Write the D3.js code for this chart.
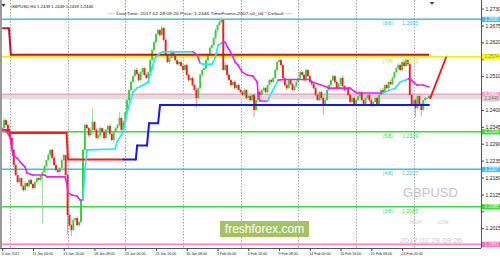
<!DOCTYPE html>
<html><head><meta charset="utf-8">
<script src="https://cdn.jsdelivr.net/npm/d3@7/dist/d3.min.js"></script>
<style>body{margin:0;background:#fff;overflow:hidden}svg{display:block;font-family:"Liberation Sans",Arial,sans-serif}</style>
</head><body><svg id="c" width="500" height="258"></svg>
<script>
// ---------------- data ----------------
const symbol = "GBPUSD";
const headerOHLC = "GBPUSD,H4  1.2439 1.2449 1.2439 1.2446";
const headerInfo = "::::: DateTime: 2017.02.28 09:26   Price: 1.2446   TimeFrame-2007-v0_06   *  Default  :::::";
const stampText = "2017.02.28 09:26";
const firstOpen = 1.2335;
const closes = [
1.2341,1.2367,1.2351,1.2328,1.2309,1.2270,1.2221,1.2188,1.2165,1.2178,1.2152,1.2139,1.2162,1.2152,1.2172,1.2159,1.2146,1.2165,1.2178,1.2172,
1.2185,1.2198,1.2217,1.2237,1.2253,1.2270,1.2244,1.2221,1.2204,1.2198,1.2211,1.2237,1.2253,1.2188,1.2058,1.2025,1.2009,1.2042,1.2048,1.2025,
1.2035,1.2107,1.2270,1.2351,1.2341,1.2318,1.2335,1.2361,1.2335,1.2309,1.2318,1.2341,1.2328,1.2309,1.2335,1.2348,1.2322,1.2302,1.2328,1.2341,
1.2351,1.2374,1.2335,1.2361,1.2393,1.2432,1.2465,1.2491,1.2510,1.2530,1.2517,1.2497,1.2523,1.2536,1.2514,1.2504,1.2523,1.2562,1.2595,1.2621,
1.2647,1.2660,1.2644,1.2667,1.2628,1.2579,1.2556,1.2569,1.2589,1.2576,1.2562,1.2549,1.2556,1.2543,1.2530,1.2546,1.2514,1.2497,1.2504,1.2481,
1.2465,1.2439,1.2471,1.2514,1.2530,1.2536,1.2562,1.2579,1.2602,1.2611,1.2634,1.2660,1.2676,1.2686,1.2693,1.2530,1.2546,1.2514,1.2497,1.2481,
1.2491,1.2471,1.2481,1.2465,1.2458,1.2449,1.2465,1.2439,1.2445,1.2432,1.2449,1.2400,1.2432,1.2458,1.2449,1.2465,1.2471,1.2458,1.2481,1.2497,
1.2491,1.2504,1.2530,1.2556,1.2562,1.2546,1.2504,1.2481,1.2471,1.2497,1.2484,1.2465,1.2478,1.2491,1.2504,1.2523,1.2514,1.2497,1.2530,1.2510,
1.2491,1.2484,1.2471,1.2449,1.2432,1.2458,1.2439,1.2419,1.2432,1.2465,1.2481,1.2497,1.2510,1.2491,1.2471,1.2484,1.2504,1.2478,1.2465,1.2471,
1.2449,1.2426,1.2439,1.2416,1.2432,1.2445,1.2458,1.2432,1.2419,1.2439,1.2449,1.2432,1.2413,1.2426,1.2439,1.2419,1.2449,1.2465,1.2458,1.2481,
1.2471,1.2491,1.2484,1.2504,1.2523,1.2536,1.2546,1.2530,1.2556,1.2543,1.2562,1.2549,1.2449,1.2416,1.2432,1.2406,1.2445,1.2419,1.2400,1.2432,
1.2439,1.2439,1.2446];
const upWick = [
4,7,3,5,2,4,3,6,2,5,3,4,7,2,4,5,3,2,6,4,
3,5,4,2,6,3,5,4,2,8,3,6,4,2,5,3,4,6,2,5,
4,3,7,3,5,4,8,45,3,6,4,5,2,6,3,4,5,2,6,3,
4,19,3,5,4,6,3,5,2,4,7,3,5,4,2,6,3,5,4,6,
3,5,4,8,3,5,2,4,6,3,5,2,4,3,6,2,5,4,3,5,
4,6,3,5,2,4,6,3,5,4,2,6,3,5,9,4,6,3,5,4,
2,6,3,5,4,3,6,2,5,4,3,6,4,2,5,3,6,4,2,5,
4,3,6,2,11,4,5,3,7,2,4,5,3,6,2,4,5,3,6,2,
5,3,4,6,2,3,5,4,7,3,4,2,6,3,5,4,2,6,3,4,
3,5,2,6,4,3,5,4,2,6,3,4,5,2,6,4,3,5,7,2,
4,3,6,5,2,4,7,3,5,6,8,4,3,5,2,6,4,3,5,2,4,3,3];
const dnWick = [
5,3,6,4,2,5,7,3,4,6,2,5,3,4,6,2,5,3,4,2,
4,153,3,5,2,6,4,3,5,2,4,6,3,2,63,5,19,4,6,3,
5,4,2,6,3,5,4,2,6,3,4,5,2,7,3,4,5,3,6,2,
4,5,3,6,2,4,8,3,5,2,4,5,3,7,2,4,5,3,6,2,
3,4,6,2,5,3,4,6,2,5,3,4,7,2,5,3,4,6,2,5,
3,33,4,2,5,3,6,4,2,5,3,4,6,2,5,3,4,6,2,5,
3,4,6,2,5,3,4,6,2,5,3,23,4,6,2,5,3,4,6,2,
5,3,4,6,2,5,3,4,7,2,5,3,4,6,2,5,3,4,6,2,
4,6,3,5,2,4,6,35,5,2,4,6,3,5,2,4,6,3,5,2,
4,6,3,5,2,4,7,3,5,2,4,6,3,5,2,4,6,3,5,2,
4,6,3,5,2,4,6,3,5,2,4,6,3,5,2,29,4,3,20,5,3,4,0];

const timeTickIdx = [0,16,32,48,64,80,96,112,128,144,160,176,192,208];
const timeLabels = ["6 Jan 2017","11 Jan 00:00","13 Jan 16:00","18 Jan 08:00","23 Jan 00:00","25 Jan 16:00","30 Jan 08:00","2 Feb 00:00","6 Feb 16:00","9 Feb 08:00","14 Feb 00:00","16 Feb 16:00","21 Feb 08:00","24 Feb 00:00"];
const weekStartIdx = [4,34,64,94,124,154,184,214];
const priceTicks = [1.2730,1.2675,1.2620,1.2565,1.2510,1.2455,1.2400,1.2345,1.2290,1.2235,1.2180,1.2125,1.2070,1.2015];

const mmLevels = [1.2695,1.2573,1.2451,1.2329,1.2207,1.2085,1.1963];
const mmNames  = ["[8/8]","[7/8]","[6/8]","[5/8]","[4/8]","[3/8]","[2/8]"];
const axisBoxValues = [1.2695,1.2574,1.2451,1.2446,1.2329,1.2207,1.2085,1.1963];

const resistIdx = [0,3.5,4.5,222];
const resistVal = [1.2666,1.2666,1.2580,1.2580];
const supportIdx = [0,3.5,4,33.5,34.2,63,69.5,70.2,75.3,76.4,81.1,82.1,222];
const supportVal = [1.2335,1.2335,1.2325,1.2325,1.2239,1.2239,1.2239,1.2284,1.2284,1.2357,1.2357,1.2416,1.2416];
const supportDir = ["dn","dn","dn","dn","dn","dn","up","up","up","up","up","up","up"];

const maIdx = [0,2.5,4,5.6,7.7,9.3,11.9,12.9,16,22.3,23.3,32.7,33.7,34.2,36.3,38.9,40.5,42,
  43.1,44.1,58.7,59.7,62.9,65,66.5,68,70.1,73.3,75.9,77.9,79.5,82.1,83.7,99.3,
  101.4,102.9,104.5,109.2,110.7,112.3,114.4,115.9,117.5,119.6,121.1,122.7,124.8,127.4,130.5,132.6,133.1,134.1,138,
  140,143.5,146.1,160.1,161.2,169,169.5,181,183.6,184.6,198,204.4,207,209.6,211.2,212.2,213.8,215.8,218.9,222];
const maVal = [1.2338,1.2328,1.2312,1.2253,1.2244,1.2231,1.2214,1.2195,1.2188,1.2188,1.2182,1.2182,1.2156,1.2130,1.2123,1.2120,1.2107,1.2107,
  1.2211,1.2270,1.2273,1.2296,1.2328,1.2393,1.2426,1.2458,1.2471,1.2481,1.2491,1.2536,1.2569,1.2585,1.2589,1.2589,
  1.2579,1.2553,1.2549,1.2549,1.2569,1.2611,1.2618,1.2621,1.2602,1.2579,1.2556,1.2546,1.2523,1.2514,1.2510,1.2491,1.2455,1.2429,1.2429,
  1.2455,1.2497,1.2499,1.2499,1.2491,1.2475,1.2471,1.2471,1.2458,1.2455,1.2455,1.2471,1.2491,1.2497,1.2501,1.2501,1.2491,1.2481,1.2481,1.2475];
const maDir = ["up","dn","dn","dn","dn","dn","dn","dn","dn","dn","dn","dn","dn","dn","dn","dn","dn","dn",
  "up","up","up","up","up","up","up","up","up","up","up","up","up","up","up","up",
  "dn","dn","up","up","up","up","up","dn","dn","dn","dn","dn","dn","dn","dn","dn","dn","dn","dn",
  "up","up","dn","dn","dn","dn","dn","dn","dn","dn","dn","up","up","up","up","dn","dn","dn","dn","dn"];

const projIdx = [222.5,231];
const projVal = [1.2436,1.2573];

// ---------------- drawing ----------------
const svg = d3.select("#c");
const W = 500, H = 258, plotR = 481, plotB = 248;
const x = d3.scaleLinear().domain([0,222]).range([2.2,429]);
const y = d3.scaleLinear().domain([1.1963,1.2695]).range([244.2,19.3]);

const mmColor = {"[8/8]":"#3cbef0","[7/8]":"#f0f000","[6/8]":"#f7a3c6","[5/8]":"#33e033","[4/8]":"#3cbef0","[3/8]":"#33e033","[2/8]":"#ff7fbf"};

svg.append("rect").attr("width",W).attr("height",H).attr("fill","#fff");
svg.append("defs").append("clipPath").attr("id","plot").append("rect").attr("x",2).attr("y",0).attr("width",plotR-2).attr("height",plotB);
const g = svg.append("g").attr("clip-path","url(#plot)");

// week separators
g.selectAll("line.sep").data(weekStartIdx).join("line")
  .attr("x1",d=>Math.round(x(d))+0.5).attr("x2",d=>Math.round(x(d))+0.5)
  .attr("y1",0).attr("y2",plotB).attr("stroke","#8a8a8a").attr("stroke-width",0.8).attr("stroke-dasharray","1.5,1.5");

// bid band
g.append("line").attr("x1",2).attr("x2",plotR).attr("y1",y(1.2451)+3).attr("y2",y(1.2451)+3)
  .attr("stroke","#dedede").attr("stroke-width",4);

// murrey lines
g.selectAll("line.mm").data(mmLevels).join("line")
  .attr("x1",2).attr("x2",plotR).attr("y1",d=>y(d)).attr("y2",d=>y(d))
  .attr("stroke",(d,i)=>mmColor[mmNames[i]]).attr("stroke-width",1.4);

// candles
const bars = closes.map((c,i)=>{
  const o = i===0 ? firstOpen : closes[i-1];
  return {i,o,c,h:Math.max(o,c)+upWick[i]/10000,l:Math.min(o,c)-dnWick[i]/10000};
});
const cg = g.append("g");
cg.selectAll("line").data(bars).join("line")
  .attr("x1",d=>x(d.i)).attr("x2",d=>x(d.i)).attr("y1",d=>y(d.h)).attr("y2",d=>y(d.l))
  .attr("stroke",d=>d.c>=d.o?"#8edc8e":"#f28585").attr("stroke-width",0.9);
cg.selectAll("rect").data(bars).join("rect")
  .attr("x",d=>x(d.i)-0.95).attr("width",1.9)
  .attr("y",d=>y(Math.max(d.o,d.c))).attr("height",d=>Math.max(0.8,Math.abs(y(d.o)-y(d.c))))
  .attr("fill",d=>d.c>=d.o?"#3ccc3c":"#f01e1e");

// resistance line
const line = d3.line().x(d=>x(d[0])).y(d=>y(d[1]));
g.append("path").attr("d",line(resistIdx.map((d,i)=>[d,resistVal[i]])))
  .attr("fill","none").attr("stroke","#c8102e").attr("stroke-width",2);

// support line (red/blue segments)
for(let i=1;i<supportIdx.length;i++){
  g.append("path").attr("d",line([[supportIdx[i-1],supportVal[i-1]],[supportIdx[i],supportVal[i]]]))
   .attr("fill","none").attr("stroke",supportDir[i]==="up"?"#1818e8":"#ff1a1a").attr("stroke-width",2).attr("stroke-linecap","round");
}
// ma line (cyan/magenta)
for(let i=1;i<maIdx.length;i++){
  g.append("path").attr("d",line([[maIdx[i-1],maVal[i-1]],[maIdx[i],maVal[i]]]))
   .attr("fill","none").attr("stroke",maDir[i]==="up"?"#16ecf4":"#f01cf0").attr("stroke-width",1.6).attr("stroke-linecap","round");
}
// projection
g.append("path").attr("d",line(projIdx.map((d,i)=>[d,projVal[i]])))
  .attr("fill","none").attr("stroke","#ff1010").attr("stroke-width",1.8);

// murrey text labels
const lbl = [0,1,3,4,5];
lbl.forEach(k=>{
  const c = mmNames[k]==="[7/8]"?"#d8d830":mmColor[mmNames[k]];
  g.append("text").attr("x",383).attr("y",y(mmLevels[k])+6).attr("font-size",5).attr("fill",c).text(mmNames[k]);
  g.append("text").attr("x",402).attr("y",y(mmLevels[k])+6).attr("font-size",5.3).attr("fill",c).text(mmLevels[k].toFixed(4));
});

// big symbol etc
g.append("text").attr("x",403).attr("y",197).attr("font-size",13).attr("fill","#c4c4c4").text(symbol);
g.append("text").attr("x",410).attr("y",223.5).attr("font-size",4.6).attr("fill","#c8c8c8").text("HIGH");
g.append("text").attr("x",438).attr("y",223.5).attr("font-size",4.6).attr("fill","#c8c8c8").text("LOW");
g.append("text").attr("x",400).attr("y",242.5).attr("font-size",8).attr("fill","#c8c8c8").text(stampText);

// watermark
svg.append("rect").attr("x",220).attr("y",221).attr("width",89).attr("height",16).attr("fill","#a5c263");
svg.append("text").attr("x",264.5).attr("y",233).attr("text-anchor","middle").attr("font-size",12).attr("fill","#fff").text("freshforex.com");

// header
svg.append("path").attr("d","M1.5,4 L5.5,4 L3.5,7 Z").attr("fill","#333");
svg.append("text").attr("x",11).attr("y",8).attr("font-size",4.3).attr("fill","#111").text(headerOHLC);
svg.append("text").attr("x",108).attr("y",15).attr("font-size",4.3).attr("fill","#222").attr("textLength",184).attr("lengthAdjust","spacingAndGlyphs").text(headerInfo);
svg.append("path").attr("d","M429.5,2 L434.5,2 L432,5 Z").attr("fill","#555");

// borders
svg.append("rect").attr("x",0).attr("y",0).attr("width",2).attr("height",plotB).attr("fill","#9a9a9a");
svg.append("line").attr("x1",plotR+0.5).attr("x2",plotR+0.5).attr("y1",0).attr("y2",plotB).attr("stroke","#555");
svg.append("line").attr("x1",0).attr("x2",plotR).attr("y1",plotB+0.5).attr("y2",plotB+0.5).attr("stroke","#555");

// colored axis boxes positions (MT4 pushes overlapping labels apart)
let prev = -100;
const boxY = axisBoxValues.map(v=>{ let yy = y(v); if(yy < prev+4.6) yy = prev+4.6; prev = yy; return yy; });

// right axis
const ra = svg.append("g").attr("transform",`translate(${plotR+0.5},0)`)
  .call(d3.axisRight(y).tickValues(priceTicks).tickFormat(d3.format(".4f")).tickSize(2.5).tickPadding(1.5));
ra.select(".domain").remove();
ra.selectAll("line").attr("stroke","#444");
ra.selectAll("text").attr("font-size",5).attr("fill","#222").attr("font-family","Liberation Sans, Arial, sans-serif");
// labels hidden under coloured boxes in the original
ra.selectAll(".tick").filter(d=>boxY.some(b=>Math.abs(b-y(d))<4.8)).select("text").remove();

// bottom axis
const ba = svg.append("g").attr("transform",`translate(0,${plotB+0.5})`)
  .call(d3.axisBottom(x).tickValues(timeTickIdx).tickFormat((d,i)=>timeLabels[i]).tickSize(2.5).tickPadding(1));
ba.select(".domain").remove();
ba.selectAll("line").attr("stroke","#444");
ba.selectAll("text").attr("font-size",3.6).attr("fill","#222").attr("text-anchor","start").attr("dx",-1).attr("font-family","Liberation Sans, Arial, sans-serif");

const boxColors = {1.2695:["#3cbef0","#fff"],1.2574:["#ffff00","#777"],1.2451:["#ff9fc8","#fff"],1.2446:["#d6d6d6","#777"],
  1.2329:["#33e033","#fff"],1.2207:["#3cbef0","#fff"],1.2085:["#33e033","#fff"],1.1963:["#ff6ab8","#fff"]};
axisBoxValues.forEach((v,i)=>{
  const yy = boxY[i];
  svg.append("rect").attr("x",plotR+1).attr("y",yy-2.5).attr("width",W-plotR-1).attr("height",5.2).attr("fill",boxColors[v][0]);
  svg.append("text").attr("x",plotR+3.5).attr("y",yy+1.6).attr("font-size",4.6).attr("fill",boxColors[v][1]).text(v.toFixed(4));
});
</script></body></html>
